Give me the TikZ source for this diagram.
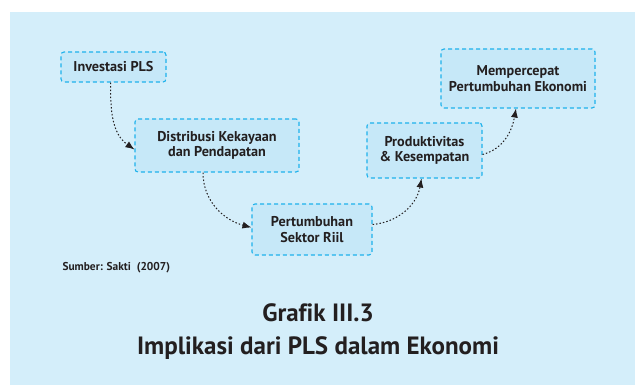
\documentclass[tikz,border=0pt]{standalone}
\usepackage{fontspec}
\setmainfont[Ligatures=CommonOff]{PT Sans}
\usetikzlibrary{arrows.meta}
\definecolor{panel}{HTML}{D4EEFA}
\definecolor{boxfill}{HTML}{C6E8F8}
\definecolor{boxline}{HTML}{1EB2EC}
\definecolor{ink}{HTML}{231F20}
\tikzset{
  stepbox/.style={draw=boxline, fill=boxfill, line width=1.1pt,
    dash pattern=on 4pt off 3pt, rounded corners=3pt, align=center,
    font=\bfseries\fontsize{14.2}{15.5}\selectfont, text=ink, inner sep=2pt},
  flow/.style={ink, line width=1pt, dash pattern=on 1.5pt off 2pt,
    -{Latex[length=9pt,width=7pt]}},
}
\begin{document}
\begin{tikzpicture}[x=1pt,y=1pt]
\useasboundingbox (0,0) rectangle (635,385);
\fill[white] (0,0) rectangle (635,385);
\fill[panel] (10,0) rectangle (635,373);
\node[stepbox, minimum width=105pt, minimum height=30pt] (inv) at (113.5,318) {Investasi PLS};
\node[stepbox, minimum width=164pt, minimum height=53pt] (dist) at (217,239.5) {Distribusi Kekayaan\\dan Pendapatan};
\node[stepbox, minimum width=120pt, minimum height=51pt] (pert) at (312,155.5) {Pertumbuhan\\Sektor Riil};
\node[stepbox, minimum width=115pt, minimum height=55pt] (prod) at (424.5,234.5) {Produktivitas\\\& Kesempatan};
\node[stepbox, minimum width=154pt, minimum height=59pt] (memp) at (518,306.5) {Mempercepat\\Pertumbuhan Ekonomi};
\draw[flow] ([xshift=-3pt]inv.south) to[out=-90,in=145] ([yshift=-4pt]dist.west);
\draw[flow] ([xshift=-14pt]dist.south) to[out=-90,in=165] ([yshift=2pt]pert.west);
\draw[flow] ([yshift=5pt]pert.east) to[out=5,in=-100] ([xshift=-3pt]prod.south);
\draw[flow] ([yshift=-4pt]prod.east) to[out=15,in=-100] ([xshift=-2pt]memp.south);
\node[anchor=west, font=\bfseries\fontsize{11.4}{12}\selectfont, text=ink] (src) at (59,117) {Sumber: Sakti~~(2007)};
\node[align=center, font=\bfseries\fontsize{25}{33}\selectfont, text=ink] (title) at (318,53) {Grafik III.3\\Implikasi dari PLS dalam Ekonomi};
\end{tikzpicture}
\end{document}
